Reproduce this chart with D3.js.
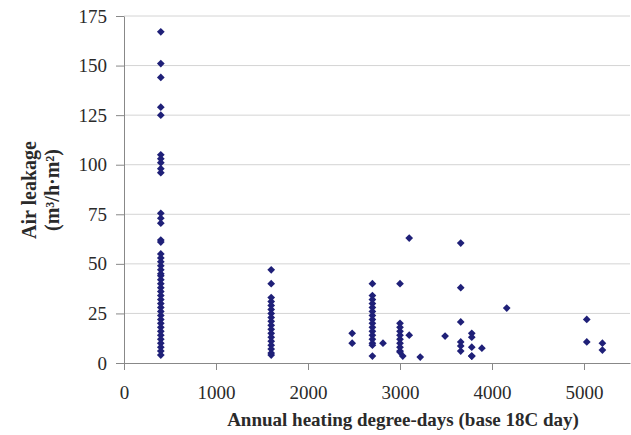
<!DOCTYPE html>
<html lang="en">
<head>
<meta charset="UTF-8">
<script src="https://cdn.jsdelivr.net/npm/d3@7.8.5/dist/d3.min.js"></script>
<title>Air leakage vs heating degree-days</title>
<style>
  body { margin: 0; background: #fff; }
  text { font-family: "Liberation Serif", "DejaVu Serif", serif; fill: #2a2a2a; }
</style>
</head>
<body>
<svg width="631" height="435"></svg>
<script>
// heating degree-days of each group of houses
var hdd = [400, 1600, 2480, 2700, 2815, 3000, 3030, 3100, 3220, 3490, 3660, 3780, 3890, 4160, 5030, 5200];
// air leakage readings for each group (same order as hdd)
var leakage = [
  [167, 151, 144, 129, 125, 105, 103, 101, 98, 96, 75.5, 73, 70.5, 62, 61, 55, 53, 51, 49, 47, 45, 44, 42, 40, 38, 36, 34, 32, 30, 28, 26, 24, 22, 20, 18, 16, 14, 12, 10, 8, 6, 4],
  [47, 40, 33, 31, 29, 27, 25, 23, 21, 19, 17, 15, 13, 11, 9, 7, 5, 4],
  [15, 10],
  [40, 34, 32, 30, 28, 26, 24, 22, 20, 18, 16, 14, 12, 10, 9, 3.5],
  [10],
  [40, 20, 18, 16, 14, 12, 10, 8, 6, 5.5],
  [3.5],
  [63, 14],
  [3],
  [13.6],
  [60.5, 38, 20.7, 10.6, 8.6, 6],
  [15, 13, 8, 3.5, 3.5],
  [7.5],
  [27.7],
  [22, 10.6],
  [10, 6.5]
];
var xTicks = [0, 1000, 2000, 3000, 4000, 5000];
var yTicks = [0, 25, 50, 75, 100, 125, 150, 175];

var points = [];
hdd.forEach(function(h, i) {
  leakage[i].forEach(function(v) { points.push({x: h, y: v}); });
});

var svg = d3.select("svg");
var plotL = 124, plotR = 630, plotT = 16, plotB = 363;

var x = d3.scaleLinear().domain([0, 5500]).range([plotL, plotR]);
var y = d3.scaleLinear().domain([0, 175]).range([plotB, plotT]);

// gridlines
svg.append("g").selectAll("line")
  .data(yTicks.filter(function(d) { return d > 0; }))
  .enter().append("line")
  .attr("x1", plotL).attr("x2", plotR)
  .attr("y1", function(d) { return y(d); })
  .attr("y2", function(d) { return y(d); })
  .attr("stroke", "#d4d4d4");

// axes
var yAxis = svg.append("g").attr("transform", "translate(" + plotL + ",0)")
  .call(d3.axisLeft(y).tickValues(yTicks).tickFormat(d3.format("d"))
    .tickSize(8).tickPadding(9).tickSizeOuter(0));
var xAxis = svg.append("g").attr("transform", "translate(0," + plotB + ")")
  .call(d3.axisBottom(x).tickValues(xTicks).tickFormat(d3.format("d"))
    .tickSize(7).tickPadding(16).tickSizeOuter(0));
[xAxis, yAxis].forEach(function(a) {
  a.select(".domain").attr("stroke", "#888");
  a.selectAll(".tick line").attr("stroke", "#888");
  a.selectAll(".tick text").style("font-size", "19px").attr("fill", "#2a2a2a");
});

// points: diamond = square turned 45 degrees
var diamond = d3.symbol().type(d3.symbolSquare).size(30);
svg.append("g").selectAll("path")
  .data(points)
  .enter().append("path")
  .attr("d", diamond)
  .attr("transform", function(d) { return "translate(" + x(d.x) + "," + y(d.y) + ") rotate(45)"; })
  .attr("fill", "#1f2078");

// axis titles
svg.append("text")
  .attr("x", 403).attr("y", 426)
  .attr("text-anchor", "middle")
  .style("font-size", "19px").style("font-weight", "bold")
  .text("Annual heating degree-days (base 18C day)");

var yt = svg.append("text")
  .attr("transform", "translate(36,190) rotate(-90)")
  .attr("text-anchor", "middle")
  .style("font-size", "20px").style("font-weight", "bold");
yt.append("tspan").attr("x", 0).attr("y", 0).text("Air leakage");
yt.append("tspan").attr("x", 0).attr("y", 23).text("(m³/h·m²)");
</script>
</body>
</html>
